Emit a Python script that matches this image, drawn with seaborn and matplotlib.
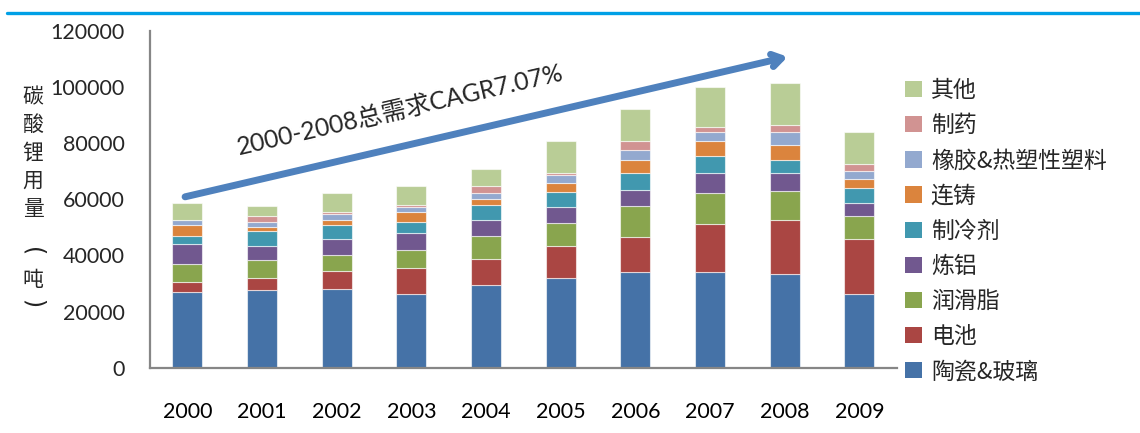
import numpy as np
import pandas as pd
import matplotlib
matplotlib.use("Agg")
import matplotlib.pyplot as plt
from matplotlib.patches import Patch
from matplotlib.lines import Line2D
import seaborn as sns

years = ['2000', '2001', '2002', '2003', '2004', '2005', '2006', '2007', '2008', '2009']

# tonnes (bottom layer first)
ceramics = [26900, 27700, 28200, 26200, 29500, 32100, 34200, 34200, 33500, 26200]
battery = [3800, 4400, 6100, 9400, 9300, 11300, 12500, 17000, 19300, 19800]
lubricant = [6300, 6200, 5900, 6500, 8100, 8100, 10800, 11000, 10100, 8100]
aluminum = [7100, 5100, 5800, 6000, 5900, 5900, 5800, 7200, 6500, 4700]
refrigerant = [2800, 5400, 4900, 4000, 5300, 5300, 6200, 5900, 4600, 5300]
casting = [4000, 1400, 1900, 3300, 1900, 3200, 4500, 5500, 5400, 3300]
rubber = [1900, 1900, 2000, 2000, 2200, 2800, 3500, 3200, 4600, 2700]
pharma = [0, 2000, 700, 700, 2600, 700, 3300, 1900, 2600, 2600]
other = [6000, 3600, 6700, 6700, 6000, 11400, 11300, 14100, 14700, 11400]

names = ['陶瓷&玻璃', '电池', '润滑脂', '炼铝', '制冷剂', '连铸', '橡胶&热塑性塑料', '制药', '其他']
series = [ceramics, battery, lubricant, aluminum, refrigerant, casting, rubber, pharma, other]
colors = ['#4572A7', '#AA4643', '#89A54E', '#71588F', '#4198AF', '#DB843D', '#93A9CF', '#D19392', '#B9CD96']

cagr_label = '2000-2008总需求CAGR7.07%'
ylabel_chars = ['碳', '酸', '锂', '用', '量', '(', '吨', ')']

sns.set_style('white')
plt.rcParams['font.family'] = ['Lato', 'Noto Sans CJK SC', 'DejaVu Sans']
cjk = ['Noto Sans CJK SC', 'DejaVu Sans']

fig = plt.figure(figsize=(11.4, 4.33), dpi=100)
ax = fig.add_axes([150 / 1140, 1 - 367.7 / 433, 746.7 / 1140, 336.7 / 433])

bottom = np.zeros(len(years))
for name, vals, col in zip(names, series, colors):
    df = pd.DataFrame({'year': years, 'value': vals})
    sns.barplot(data=df, x='year', y='value', color=col, width=0.4, bottom=bottom,
                saturation=1, edgecolor=(1, 1, 1, 0.6), linewidth=0.8, ax=ax)
    bottom = bottom + np.array(vals)

ax.set_xlim(-0.5, len(years) - 0.5)
ax.set_ylim(0, 120000)
ax.set_yticks(np.arange(0, 120001, 20000))
ax.set_xlabel('')
ax.set_ylabel('')

for s in ['top', 'right']:
    ax.spines[s].set_visible(False)
for s in ['left', 'bottom']:
    ax.spines[s].set_color('#868686')
    ax.spines[s].set_linewidth(1.6)

ax.set_xticks(np.arange(len(years)))
ax.set_xticklabels(years)
ax.set_xticks(np.arange(-0.5, len(years)), minor=True)
ax.tick_params(axis='x', which='major', length=0, pad=25, labelsize=15.5, colors='black')
ax.tick_params(axis='x', which='minor', length=7, width=1.6, color='#868686', direction='out')
ax.tick_params(axis='y', length=7, width=1.6, color='#868686', direction='out', labelsize=15.5, pad=11)

# growth arrow and CAGR label
ax.annotate('', xy=(8.04, 110800), xytext=(-0.03, 60900),
            arrowprops=dict(arrowstyle='->, head_length=0.7, head_width=0.45',
                            color='#4F81BD', lw=5, shrinkA=0, shrinkB=0),
            annotation_clip=False)
fig.text(401 / 1140, 1 - 111 / 433, cagr_label, rotation=13, ha='center', va='center',
         rotation_mode='anchor', fontsize=17.8)

# vertical y label, one character per row (brackets turned for vertical writing)
ylabel_rows = [97, 125, 153, 181, 209, 252, 280, 304]
for ch, yp in zip(ylabel_chars, ylabel_rows):
    if ch in '()':
        fig.text(33 / 1140, 1 - yp / 433, ch, ha='center', va='center', fontsize=17,
                 family='DejaVu Sans', rotation=-90, color='#222222')
    else:
        fig.text(33 / 1140, 1 - yp / 433, ch, ha='center', va='center', fontsize=15,
                 family=cjk)

handles = [Patch(facecolor=c, edgecolor='none') for c in colors][::-1]
fig.legend(handles, names[::-1], loc='upper left', bbox_to_anchor=(896 / 1140, 1 - 70 / 433),
           frameon=False, handlelength=0.72, handleheight=0.72,
           handletextpad=0.4, labelspacing=0.53, borderaxespad=0,
           prop={'family': cjk, 'size': 16.5})

# blue rule at the top
fig.add_artist(Line2D([7 / 1140, 1], [1 - 13 / 433, 1 - 13 / 433], color='#00A0E6', lw=2.4))

fig.savefig('out.png', dpi=100)
